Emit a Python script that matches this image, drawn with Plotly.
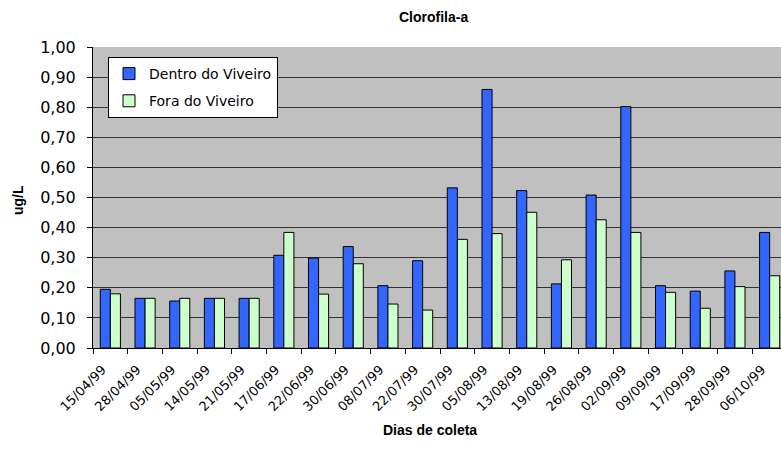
import plotly.graph_objects as go

# Sampling dates (1999) and chlorophyll-a concentrations (ug/L)
datas = ["15/04/99", "28/04/99", "05/05/99", "14/05/99", "21/05/99",
         "17/06/99", "22/06/99", "30/06/99", "08/07/99", "22/07/99",
         "30/07/99", "05/08/99", "13/08/99", "19/08/99", "26/08/99",
         "02/09/99", "09/09/99", "17/09/99", "28/09/99", "06/10/99"]
dentro = [0.195, 0.165, 0.156, 0.165, 0.165,
          0.308, 0.299, 0.337, 0.207, 0.290,
          0.532, 0.859, 0.523, 0.213, 0.508,
          0.802, 0.207, 0.189, 0.256, 0.384]
fora = [0.180, 0.165, 0.165, 0.165, 0.165,
        0.384, 0.179, 0.280, 0.146, 0.126,
        0.361, 0.380, 0.451, 0.293, 0.426,
        0.384, 0.185, 0.132, 0.204, 0.240]
y_ticks = [0.0, 0.1, 0.2, 0.3, 0.4, 0.5, 0.6, 0.7, 0.8, 0.9, 1.0]

W, H = 781, 466
L, T, B = 93, 47, 118
cat_px = 34.7  # width of one category slot in pixels
span = (W - L) / cat_px

fig = go.Figure()
fig.add_trace(go.Bar(
    x=datas, y=dentro, name="Dentro do Viveiro", legendgroup="a",
    marker=dict(color="#3366FF", line=dict(color="#000000", width=1)),
))
fig.add_trace(go.Bar(
    x=datas, y=fora, name="Fora do Viveiro", legendgroup="b",
    marker=dict(color="#CCFFCC", line=dict(color="#000000", width=1)),
))

fig.update_layout(
    width=W, height=H,
    margin=dict(l=L, r=0, t=T, b=B, pad=0),
    paper_bgcolor="#FFFFFF",
    plot_bgcolor="#C0C0C0",
    separators=", ",
    barmode="group",
    bargap=0.42,
    bargroupgap=0,
    font=dict(family="DejaVu Sans", color="#000000"),
    showlegend=True,
    legend=dict(
        x=(108 - L) / (W - L), y=(H - B - 57) / (H - B - T),
        xanchor="left", yanchor="top",
        bgcolor="#FFFFFF", bordercolor="#000000", borderwidth=1,
        font=dict(family="DejaVu Sans", size=14, color="#000000"),
        traceorder="grouped", tracegroupgap=6,
    ),
    xaxis=dict(
        type="category",
        range=[-0.5, -0.5 + span],
        tickangle=-45,
        tickson="boundaries",
        ticks="outside", ticklen=5, tickcolor="#000000",
        ticklabelshift=-8, ticklabelstandoff=8,
        tickfont=dict(family="DejaVu Sans", size=13),
        showline=True, linecolor="#000000", linewidth=1,
        showgrid=False,
    ),
    yaxis=dict(
        range=[0, 1.0],
        tickvals=y_ticks,
        tickformat=".2f",
        ticks="outside", ticklen=5, tickcolor="#000000",
        ticklabelstandoff=8,
        tickfont=dict(family="DejaVu Sans", size=16),
        showline=True, linecolor="#000000", linewidth=1,
        showgrid=True, gridcolor="#333333", gridwidth=1,
        zeroline=False,
    ),
    annotations=[
        dict(text="<b>Clorofila-a</b>", xref="paper", yref="paper",
             x=(433 - L) / (W - L), y=1, yshift=T - 17,
             xanchor="center", yanchor="middle", showarrow=False,
             font=dict(family="Liberation Sans", size=14)),
        dict(text="<b>ug/L</b>", xref="paper", yref="paper",
             x=0, xshift=18 - L, y=(H - B - 200) / (H - B - T),
             xanchor="center", yanchor="middle", textangle=-90,
             showarrow=False,
             font=dict(family="Liberation Sans", size=14)),
        dict(text="<b>Dias de coleta</b>", xref="paper", yref="paper",
             x=(430 - L) / (W - L), y=0, yshift=-(430 - (H - B)),
             xanchor="center", yanchor="middle", showarrow=False,
             font=dict(family="Liberation Sans", size=14)),
    ],
)

fig.write_html("out.html")
